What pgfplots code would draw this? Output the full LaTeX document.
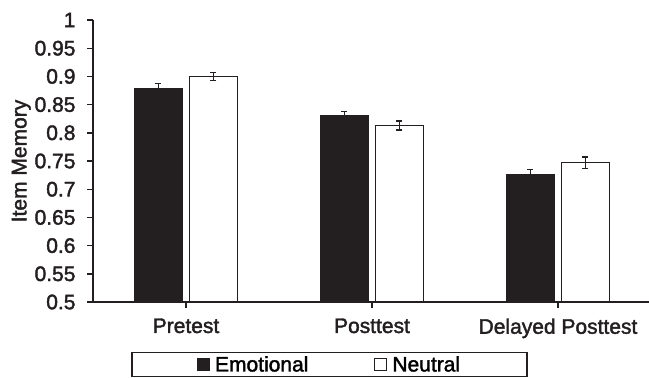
\documentclass[border=0pt]{standalone}
\usepackage{fontspec}
\setmainfont{Liberation Sans}
\newfontfamily\heavyfont{Liberation Sans}[FakeBold=1.8]
\usepackage{pgfplots}
\pgfplotsset{compat=1.18}
\usepackage{pgfplotstable}
\definecolor{barblack}{HTML}{231F20}
\pgfplotstableread{
x  emo   emoerr  neu   neuerr
0  0.879 0.008   0.900 0.007
1  0.831 0.007   0.813 0.008
2  0.726 0.009   0.747 0.010
}\datatable
\newcommand{\chartfont}{\heavyfont\fontsize{21}{24}\selectfont}
\begin{document}
\begin{tikzpicture}
\begin{axis}[
  scale only axis,
  width=558pt, height=282pt,
  xmin=-0.5, xmax=2.5, ymin=0.5, ymax=1,
  enlargelimits=false,
  axis x line=bottom, axis y line=left,
  axis line style={-, line width=1.6pt, color=barblack},
  tick style={line width=1.4pt, color=barblack},
  tick align=outside, major tick length=6pt,
  xtick=data, xticklabels={Pretest,Posttest,Delayed Posttest},
  xticklabel style={yshift=-7pt},
  ytick={0.5,0.55,...,1.01},
  yticklabel style={/pgf/number format/fixed, /pgf/number format/precision=2, xshift=-8pt},
  /pgf/number format/assume math mode=true,
  tick label style={font=\chartfont, color=barblack},
  ylabel={Item Memory},
  ylabel style={font=\chartfont, color=barblack, yshift=-3pt},
  ybar=7pt, bar width=48pt,
  legend columns=2,
  legend style={at={(0.424,-0.222)}, anchor=center, font=\chartfont,
    draw=barblack, line width=1.5pt, inner xsep=65pt, inner ysep=1.5pt,
    /tikz/every even column/.append style={column sep=64pt},
    /tikz/every odd column/.append style={column sep=3pt}},
  legend image code/.code={\draw[#1, line width=1pt] (0pt,-6pt) rectangle (12pt,6pt);},
]
\addplot[fill=barblack, draw=barblack, line width=0.5pt,
  error bars/.cd, y dir=both, y explicit,
  error bar style={line width=1.5pt, color=barblack},
  error mark options={rotate=90, mark size=3pt, line width=1.5pt, color=barblack}]
  table[x=x, y=emo, y error=emoerr] {\datatable};
\addplot[fill=white, draw=barblack, line width=1.6pt,
  error bars/.cd, y dir=both, y explicit,
  error bar style={line width=1.5pt, color=barblack},
  error mark options={rotate=90, mark size=3pt, line width=1.5pt, color=barblack}]
  table[x=x, y=neu, y error=neuerr] {\datatable};
\legend{Emotional, Neutral}
\end{axis}
\pgfresetboundingbox
\path ([shift={(-93pt,-76pt)}]current axis.south west) rectangle ([shift={(556pt,302pt)}]current axis.south west);
\end{tikzpicture}
\end{document}
